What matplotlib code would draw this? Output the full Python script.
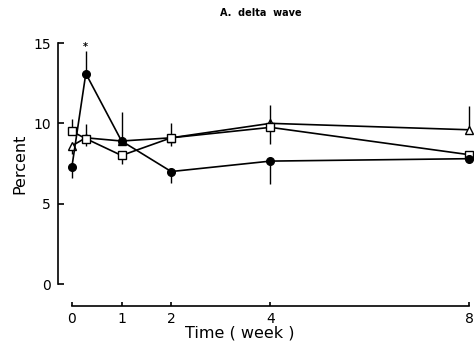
import numpy as np
import matplotlib.pyplot as plt

# time points (weeks)
weeks = [0, 0.28, 1, 2, 4, 8]

# percent delta power per group
filled_vals = [7.3, 13.1, 8.9, 7.0, 7.65, 7.8]
square_vals = [9.5, 9.05, 8.0, 9.1, 9.75, 8.05]
triangle_vals = [8.6, 9.1, 8.9, 9.1, 10.0, 9.6]

# one-sided SE bars: (down, up)
filled_err = [[0.7, 0, 0, 0.7, 1.45, 0], [0, 1.4, 1.8, 0, 0, 0]]
square_err = [[0, 0, 0.5, 0, 0, 0], [0.8, 0.9, 0, 0.9, 1.4, 0]]
triangle_err = [[0.5, 0.5, 0, 0.5, 1.3, 0], [0, 0, 0, 0, 0, 1.5]]

xticks = [0, 1, 2, 4, 8]
yticks = [0, 5, 10, 15]

plt.rcParams['font.family'] = 'DejaVu Sans'

fig = plt.figure(figsize=(4.74, 3.48), dpi=100)
ax = fig.add_axes([0.1224, 0.1839, 0.8692, 0.6925])

common = dict(color='black', lw=1.2, capsize=0, elinewidth=1.0, markersize=5.5,
              markeredgewidth=1.0, markeredgecolor='black')
series = [
    (triangle_vals, triangle_err, '-^', 'white', 3),
    (square_vals, square_err, '-s', 'white', 4),
    (filled_vals, filled_err, '-o', 'black', 5),
]
for vals, err, fmt, face, z in series:
    cont = ax.errorbar(weeks, vals, yerr=err, fmt=fmt, markerfacecolor=face, zorder=z, **common)
    # keep markers/bars at the right edge from being clipped
    cont.lines[0].set_clip_on(False)
    for art in cont.lines[2]:
        art.set_clip_on(False)

# significance mark above the peak
ax.text(weeks[1], 14.75, '*', ha='center', va='center', fontsize=7, fontweight='bold')

ax.set_xlim(-0.28, 8.02)
ax.set_ylim(0, 15)
ax.spines['top'].set_visible(False)
ax.spines['right'].set_visible(False)
ax.spines['bottom'].set_position(('outward', 16))
ax.spines['bottom'].set_bounds(0, 8)
ax.spines['left'].set_bounds(0, 15)
ax.spines['bottom'].set_linewidth(1.2)
ax.spines['left'].set_linewidth(1.2)

ax.set_xticks(xticks)
ax.set_yticks(yticks)
ax.tick_params(axis='both', direction='in', length=4, width=1.2, labelsize=10)
ax.tick_params(axis='x', pad=4, length=3)
ax.tick_params(axis='y', pad=5)

ax.set_xlabel('Time ( week )', fontsize=11.5)
ax.xaxis.set_label_coords(0.44, -0.172)
ax.set_ylabel('Percent', fontsize=11.5)
ax.yaxis.set_label_coords(-0.075, 0.5)

fig.text(0.55, 0.962, 'A.  delta  wave', ha='center', va='center', fontsize=7, fontweight='bold')

fig.savefig('out.png', dpi=100)
